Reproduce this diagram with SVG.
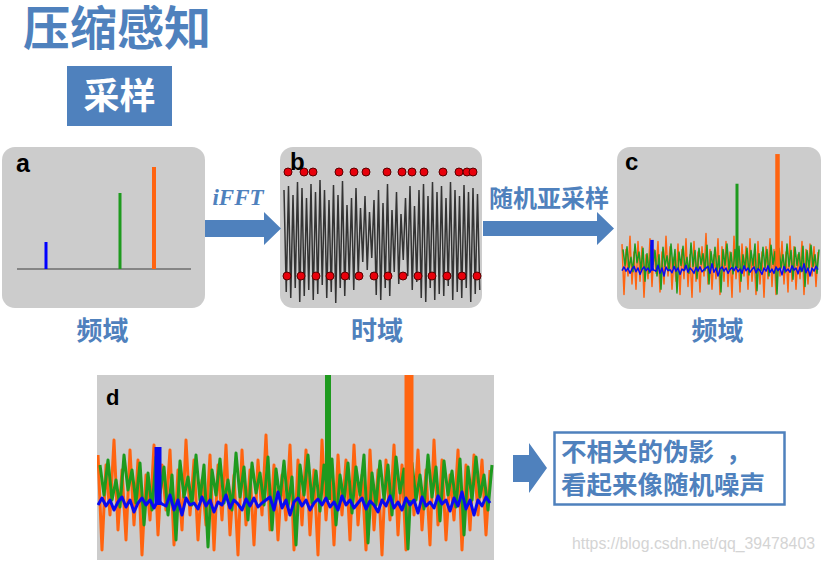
<svg xmlns="http://www.w3.org/2000/svg" width="824" height="563" viewBox="0 0 824 563">
<style>
.cjk{font-family:"Noto Sans CJK SC","Noto Sans",sans-serif;font-weight:700;fill:#4f81bd}
.lbl{font-family:"Liberation Sans",Arial,sans-serif;font-weight:700;fill:#000}
.panel{fill:#cccccc}
.arrow{fill:#4f81bd}
.dot{fill:#e8000b;stroke:#5a0000;stroke-width:1}
</style>
<defs>
<clipPath id="clipD"><rect x="97" y="375" width="397" height="185"/></clipPath>
<g id="noise" fill="none" stroke-linejoin="round">
<polyline stroke="#ff6410" stroke-width="3" points="98,455 102,550 106,465 110,515 114,440 118,530 122,470 126,540 130,450 134,525 138,460 142,555 146,475 150,520 154,445 158,535 162,465 166,510 170,450 174,545 178,470 182,530 186,440 190,515 194,460 198,540 202,480 206,525 210,455 214,550 218,465 222,520 226,445 230,535 234,475 238,555 242,450 246,525 250,470 254,545 258,460 262,515 266,435 270,530 274,465 278,540 282,475 286,520 290,445 294,550 298,460 302,525 306,450 310,535 314,470 318,555 322,440 326,520 330,465 334,545 338,455 342,515 346,460 350,540 354,445 358,525 362,475 366,550 370,450 374,530 378,470 382,555 386,460 390,520 394,445 398,535 402,465 406,550 410,455 414,515 418,450 422,530 426,470 430,545 434,440 438,525 442,460 446,540 450,475 454,520 458,450 462,550 466,465 470,530 474,455 478,515 482,460 486,535 490,470"/>
<polyline stroke="#1e9a1e" stroke-width="3" points="100,465 104,495 108,460 112,500 116,480 120,507 124,455 128,490 132,470 136,503 140,463 144,525 148,473 152,510 156,457 160,493 164,467 168,515 172,475 176,540 180,461 184,497 188,477 192,505 196,455 200,500 204,465 208,547 212,470 216,495 220,459 224,503 228,480 232,510 236,453 240,497 244,467 248,520 252,463 256,493 260,473 264,505 268,457 272,530 276,469 280,499 284,461 288,507 292,477 296,545 300,465 304,495 308,455 312,503 316,471 320,511 324,465 328,497 332,459 336,525 340,475 344,501 348,463 352,513 356,467 360,495 364,455 368,543 372,473 376,505 380,461 384,499 388,465 392,515 396,457 400,493 404,469 408,549 412,463 416,500 420,475 424,509 428,455 432,497 436,467 440,521 444,461 448,495 452,471 456,507 460,459 464,535 468,467 472,500 476,457 480,497 484,475 488,510 492,465"/>
<line x1="328" y1="341" x2="328" y2="500" stroke="#1e9a1e" stroke-width="6"/>
<line x1="409" y1="285" x2="409" y2="500" stroke="#ff6410" stroke-width="9"/>
<polyline stroke="#0a0af0" stroke-width="3" points="98,505 102,498 106,506 110,500 114,510 118,502 122,497 126,507 130,500 134,512 138,503 142,498 146,505 150,500 154,508 158,500 162,504 166,506 170,495 174,510 178,500 182,515 186,498 190,505 194,503 198,509 202,497 206,506 210,500 214,512 218,502 222,505 226,495 230,508 234,500 238,504 242,510 246,499 250,506 254,498 258,507 262,503 266,500 270,497 274,510 278,492 282,508 286,500 290,515 294,502 298,498 302,506 306,500 310,510 314,503 318,499 322,505 326,498 330,507 334,502 338,510 342,496 346,505 350,500 354,508 358,503 362,498 366,509 370,501 374,505 378,512 382,500 386,506 390,496 394,508 398,502 402,510 406,498 410,505 414,500 418,513 422,497 426,506 430,502 434,508 438,496 442,504 446,500 450,511 454,498 458,506 462,492 466,509 470,500 474,515 478,500 482,506 486,497 490,503"/>
<line x1="158" y1="447" x2="158" y2="505" stroke="#0a0af0" stroke-width="7"/>
</g>
</defs>
<rect width="824" height="563" fill="#ffffff"/>

<g id="title"><text class="cjk" x="23" y="45" font-size="47">压缩感知</text></g>

<g id="sampling">
<rect x="67" y="66" width="105" height="60" fill="#4f81bd"/>
<text class="cjk" x="119.5" y="109" font-size="36" text-anchor="middle" style="fill:#ffffff">采样</text>
</g>

<g id="panel-a">
<rect class="panel" x="2" y="147" width="203" height="161" rx="13"/>
<text class="lbl" x="16" y="172" font-size="25">a</text>
<line x1="17" y1="269" x2="191" y2="269" stroke="#6e6e6e" stroke-width="1.6"/>
<line x1="46" y1="242" x2="46" y2="269" stroke="#0000ff" stroke-width="3"/>
<line x1="120" y1="193" x2="120" y2="269" stroke="#1e9a1e" stroke-width="3"/>
<line x1="154" y1="167" x2="154" y2="269" stroke="#ff6410" stroke-width="4"/>
</g>
<text class="cjk" x="102.5" y="340" font-size="26" text-anchor="middle">频域</text>

<g id="panel-b">
<rect class="panel" x="280" y="147" width="202" height="161" rx="13"/>
<polyline fill="none" stroke="#333333" stroke-width="1.5" points="284,190 286.25,292 288.5,186 290.75,298 293,195 295.25,288 297.5,182 299.75,302 302,188 304.25,296 306.5,198 308.75,290 311,184 313.25,300 315.5,192 317.75,294 320,180 322.25,285 324.5,190 326.75,298 329,200 331.25,292 333.5,185 335.75,303 338,195 340.25,288 342.5,181 344.75,296 347,205 349.25,280 351.5,198 353.75,290 356,188 358.25,276 360.5,208 362.75,262 365,196 367.25,270 369.5,212 371.75,258 374,200 376.25,295 378.5,190 380.75,300 383,203 385.25,288 387.5,184 389.75,296 392,210 394.25,272 396.5,192 398.75,284 401,214 403.25,260 405.5,198 407.75,276 410,186 412.25,290 414.5,206 416.75,282 419,190 421.25,298 423.5,184 425.75,302 428,196 430.25,288 432.5,182 434.75,300 437,192 439.25,294 441.5,186 443.75,296 446,198 448.25,286 450.5,182 452.75,300 455,190 457.25,292 459.5,196 461.75,298 464,185 466.25,288 468.5,192 470.75,302 473,188 475.25,294 477.5,194 479.75,290"/>
<g>
<circle class="dot" cx="288" cy="172" r="4"/><circle class="dot" cx="304" cy="172" r="4"/><circle class="dot" cx="313" cy="172" r="4"/><circle class="dot" cx="339" cy="172" r="4"/><circle class="dot" cx="354" cy="172" r="4"/><circle class="dot" cx="366" cy="172" r="4"/><circle class="dot" cx="387" cy="172" r="4"/><circle class="dot" cx="402" cy="172" r="4"/><circle class="dot" cx="412" cy="172" r="4"/><circle class="dot" cx="424" cy="172" r="4"/><circle class="dot" cx="443" cy="172" r="4"/><circle class="dot" cx="459" cy="172" r="4"/><circle class="dot" cx="467" cy="172" r="4"/><circle class="dot" cx="473" cy="172" r="4"/>
<circle class="dot" cx="287" cy="276" r="4"/><circle class="dot" cx="301" cy="276" r="4"/><circle class="dot" cx="316" cy="276" r="4"/><circle class="dot" cx="330" cy="276" r="4"/><circle class="dot" cx="345" cy="276" r="4"/><circle class="dot" cx="359" cy="276" r="4"/><circle class="dot" cx="374" cy="276" r="4"/><circle class="dot" cx="388" cy="276" r="4"/><circle class="dot" cx="403" cy="276" r="4"/><circle class="dot" cx="418" cy="276" r="4"/><circle class="dot" cx="432" cy="276" r="4"/><circle class="dot" cx="447" cy="276" r="4"/><circle class="dot" cx="462" cy="276" r="4"/><circle class="dot" cx="477" cy="276" r="4"/>
</g>
<text class="lbl" x="290" y="170" font-size="24">b</text>
</g>
<text class="cjk" x="377" y="340" font-size="26" text-anchor="middle">时域</text>

<g id="panel-c">
<rect class="panel" x="617" y="147" width="204" height="162" rx="13"/>
<use href="#noise" transform="translate(573,3) scale(0.5,0.53)"/>
<text class="lbl" x="625" y="170" font-size="24">c</text>
</g>
<text class="cjk" x="717.5" y="340" font-size="26" text-anchor="middle">频域</text>

<g id="panel-d">
<rect class="panel" x="97" y="375" width="397" height="185"/>
<g clip-path="url(#clipD)"><use href="#noise"/></g>
<text class="lbl" x="106" y="405" font-size="22">d</text>
</g>

<g id="note">
<rect x="554.5" y="432.5" width="230" height="72" fill="#ffffff" stroke="#4f81bd" stroke-width="2.5"/>
<text class="cjk" x="561" y="461" font-size="25.5">不相关的伪影<tspan x="726">，</tspan></text>
<text class="cjk" x="561" y="494" font-size="25.5">看起来像随机噪声</text>
</g>

<g id="connectors">
<polygon class="arrow" points="205,220 264,220 264,212 281,228.5 264,245 264,237 205,237"/>
<text x="238" y="205" font-family="'Liberation Serif',serif" font-style="italic" font-weight="700" font-size="23" fill="#4f81bd" text-anchor="middle">iFFT</text>
<polygon class="arrow" points="483,221 597,221 597,212 614,228.5 597,245 597,236 483,236"/>
<text class="cjk" x="549" y="207" font-size="24" text-anchor="middle">随机亚采样</text>
<polygon class="arrow" points="513,455 529,455 529,443 547,468 529,493 529,482 513,482"/>
</g>

<text x="572" y="549" font-family="'Liberation Sans',Arial,sans-serif" font-size="15.8" fill="#d4d4d4" textLength="243">https://blog.csdn.net/qq_39478403</text>
</svg>
